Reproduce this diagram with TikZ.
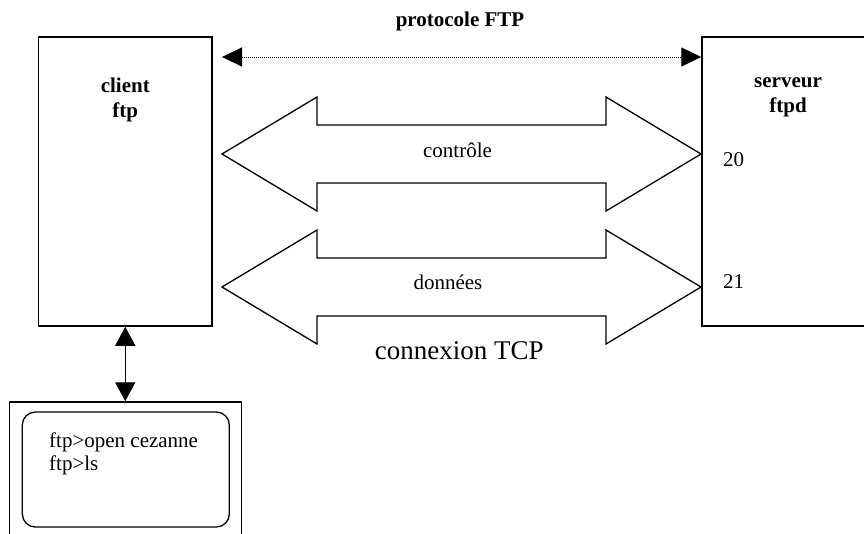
\documentclass[tikz,border=0pt]{standalone}
\usepackage{fontspec}
\setmainfont{Liberation Serif}
\usepackage{tikz}
\usetikzlibrary{arrows.meta, positioning, calc}
\tikzset{
  box/.style={rectangle, draw, line width=1.5pt, inner sep=0pt},
  screen/.style={rectangle, draw, rounded corners=13pt, line width=1.3pt, inner sep=0pt},
  title/.style={font=\fontsize{21}{25}\selectfont\bfseries, align=center, inner sep=0pt},
  lbl/.style={font=\fontsize{21}{23}\selectfont, inner sep=0pt},
  pipe/.style={draw, line width=1.3pt, line join=miter},
  arr/.style={{Triangle[length=19pt,width=20pt]}-{Triangle[length=19pt,width=20pt]}, line width=1.3pt},
  dotarr/.style={{Triangle[length=20pt,width=19pt]}-{Triangle[length=20pt,width=19pt]},
    line width=1pt, dash pattern=on 1pt off 1pt},
}
\begin{document}
\begin{tikzpicture}[x=1pt, y=-1pt]
  \clip (0,0) rectangle (864,533);

  % client and server
  \node[box, minimum width=173.5pt, minimum height=289pt] (client) at (125.25,181.5) {};
  \node[box, minimum width=168pt, minimum height=289pt] (server) at (786,181.5) {};
  \node[title, anchor=north] (clientname) at (125.25,77.7) {client\\ftp};
  \node[title, anchor=north] (servername) at (788,77.7) {serveur\\ftpd};

  % protocol
  \node[title, anchor=base] (proto) at (460,26) {protocole FTP};
  \coordinate (pl) at (222,57);
  \draw[dotarr] (pl) -- (server.west |- pl);

  % TCP connections
  \foreach \c in {154,287} {
    \draw[pipe] (222,\c) -- (317,\c-57) -- (317,\c-29) -- (606,\c-29) -- (606,\c-57)
      -- (701,\c) -- (606,\c+57) -- (606,\c+29) -- (317,\c+29) -- (317,\c+57) -- cycle;
  }
  \node[lbl, anchor=base] (ctrl) at (457.5,157) {contrôle};
  \node[lbl, anchor=base] (data) at (448,289) {données};
  \node[lbl, anchor=base west] (p20) at (723,166) {20};
  \node[lbl, anchor=base west] (p21) at (723,288) {21};
  \node[lbl, font=\fontsize{27}{30}\selectfont, anchor=base] (tcp) at (459.3,359) {connexion TCP};

  % terminal
  \node[box, minimum width=232pt, minimum height=143pt] (term) at (125.25,473.5) {};
  \node[screen, minimum width=207pt, minimum height=115pt] (scr) at (125.8,469.5) {};
  \node[lbl, align=left, anchor=north west] (cmd) at (49,432.5) {ftp>open cezanne\\ftp>ls};
  \draw[arr] (client.south) -- (term.north);
\end{tikzpicture}
\end{document}
